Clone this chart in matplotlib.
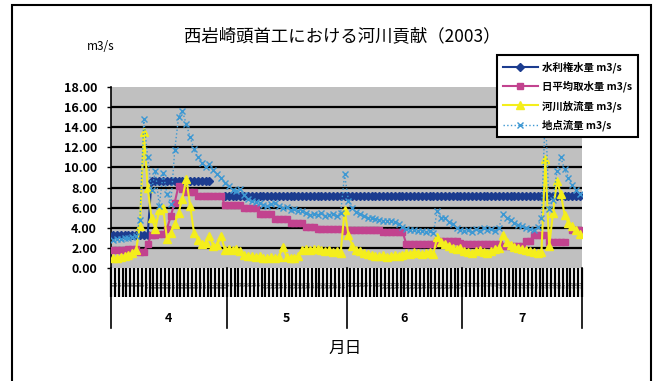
import numpy as np
import pandas as pd
import matplotlib
matplotlib.use('Agg')
import matplotlib.pyplot as plt
from matplotlib.patches import Rectangle

plt.rcParams['font.family'] = ['Noto Sans CJK JP', 'DejaVu Sans']

nan = np.nan

# daily values, 2003-04-01 .. 2003-07-31 (m3/s)
dates = pd.date_range('2003-04-01', '2003-07-31', freq='D')
month_labels = ['4', '5', '6', '7']

# 水利権水量
water_right = [
    # Apr
    3.3, 3.3, 3.3, 3.3, 3.3, 3.3, 3.3, 3.3, 3.3, 3.3,
    8.7, 8.7, 8.7, 8.7, 8.7, 8.7, 8.7, 8.7, 8.7, 8.7, 8.7, 8.7, 8.7, 8.7, 8.7, 8.7,
    nan, nan, nan, 7.2,
    # May
    7.2, 7.2, 7.2, 7.2, 7.2, 7.2, 7.2, 7.2, 7.2, 7.2, 7.2, 7.2, 7.2, 7.2, 7.2, 7.2,
    7.2, 7.2, 7.2, 7.2, 7.2, 7.2, 7.2, 7.2, 7.2, 7.2, 7.2, 7.2, 7.2, 7.2, 7.2,
    # Jun
    7.2, 7.2, 7.2, 7.2, 7.2, 7.2, 7.2, 7.2, 7.2, 7.2, 7.2, 7.2, 7.2, 7.2, 7.2,
    7.2, 7.2, 7.2, 7.2, 7.2, 7.2, 7.2, 7.2, 7.2, 7.2, 7.2, 7.2, 7.2, 7.2, 7.2,
    # Jul
    7.2, 7.2, 7.2, 7.2, 7.2, 7.2, 7.2, 7.2, 7.2, 7.2, 7.2, 7.2, 7.2, 7.2, 7.2, 7.2,
    7.2, 7.2, 7.2, 7.2, 7.2, 7.2, 7.2, 7.2, 7.2, 7.2, 7.2, 7.2, 7.2, 7.2, 7.2,
]

# 日平均取水量
intake = [
    # Apr
    1.8, 1.8, 1.8, 1.8, 1.9, 1.9, 1.9, 1.6, 1.6, 2.4, 3.3, 3.3, 3.4, 3.4, 3.9,
    5.2, 6.5, 8.2, 7.9, 7.6, 7.6, 7.6, 7.2, 7.2, 7.2, 7.2, 7.2, 7.2, 7.2, 6.3,
    # May
    6.3, 6.3, 6.3, 6.3, 6.0, 6.0, 6.0, 6.0, 5.4, 5.4, 5.4, 5.4, 4.9, 4.9, 4.9, 4.9,
    4.5, 4.5, 4.5, 4.5, 4.1, 4.1, 4.1, 3.9, 3.9, 3.9, 3.9, 3.9, 3.9, 3.9, 3.7,
    # Jun
    3.8, 3.8, 3.8, 3.8, 3.8, 3.8, 3.8, 3.8, 3.8, 3.6, 3.6, 3.6, 3.6, 3.6, 3.6,
    2.4, 2.4, 2.4, 2.4, 2.4, 2.4, 2.4, 2.4, 2.7, 2.7, 2.7, 2.7, 2.7, 2.7, 2.5,
    # Jul
    2.4, 2.4, 2.4, 2.4, 2.4, 2.4, 2.4, 2.4, 2.4, 2.4, 2.2, 2.2, 2.2, 2.2, 2.2, 2.2,
    2.7, 2.7, 3.3, 3.3, 3.3, 3.3, 2.6, 2.6, 2.6, 2.6, 2.6, nan, 3.8, 3.8, 3.8,
]

# 河川放流量
release = [
    # Apr
    1.0, 1.0, 1.1, 1.2, 1.3, 1.5, 1.8, 4.2, 13.5, 8.0, 5.0, 3.9, 5.8, 6.0, 2.9,
    3.5, 4.4, 5.5, 6.9, 8.9, 6.2, 3.5, 2.8, 2.4, 2.5, 3.2, 2.2, 2.3, 3.2, 1.8,
    # May
    1.9, 1.8, 1.9, 1.7, 1.3, 1.2, 1.2, 1.1, 1.2, 1.0, 1.0, 1.1, 1.0, 1.1, 2.1, 1.1,
    1.0, 1.0, 1.2, 1.8, 1.9, 1.8, 1.9, 1.9, 1.8, 1.7, 1.8, 1.6, 1.7, 1.5, 5.8,
    # Jun
    3.3, 2.2, 1.8, 1.7, 1.5, 1.4, 1.3, 1.2, 1.2, 1.3, 1.1, 1.2, 1.3, 1.2, 1.3,
    1.5, 1.4, 1.6, 1.5, 1.4, 1.5, 1.6, 1.4, 3.1, 2.6, 2.4, 2.2, 2.0, 1.9, 2.0,
    # Jul
    1.7, 1.6, 1.5, 1.7, 1.8, 1.6, 1.5, 1.7, 1.9, 2.0, 3.3, 2.6, 2.3, 2.1, 2.0, 1.9,
    1.8, 1.7, 1.6, 1.5, 1.6, 10.8, 2.2, 5.5, 8.7, 7.4, 5.3, 4.5, 4.2, 3.8, 3.4,
]

# 地点流量
flow = [
    # Apr
    2.8, 2.9, 2.9, 3.0, 3.0, 3.1, 3.2, 4.8, 14.8, 11.0, 7.8, 9.6, 6.2, 9.4, 7.4,
    6.4, 11.7, 15.0, 15.6, 14.3, 13.0, 11.8, 11.0, 10.4, 10.0, 10.3, 9.7, 9.3, 9.0, 8.5,
    # May
    8.2, 7.8, 7.7, 7.9, 7.3, 6.9, 6.7, 6.6, 6.5, 6.3, 6.2, 6.4, 6.5, 6.2, 6.0, 6.1,
    5.8, 5.9, 5.7, 5.7, 5.5, 5.3, 5.4, 5.3, 5.5, 5.2, 5.3, 5.4, 5.2, 5.5, 9.3,
    # Jun
    6.7, 6.0, 5.6, 5.4, 5.2, 5.0, 5.0, 4.9, 4.8, 4.7, 4.7, 4.7, 4.6, 4.4, 4.1,
    3.9, 3.8, 3.8, 3.7, 3.7, 3.6, 3.7, 3.5, 5.7, 5.0, 5.0, 4.6, 4.4, 4.0, 3.8,
    # Jul
    3.7, 3.8, 3.6, 3.9, 3.7, 4.0, 3.8, 3.9, 3.7, 4.0, 5.4, 5.0, 4.8, 4.5, 4.3, 4.2,
    4.0, 3.9, 3.8, 4.1, 5.0, 15.5, 5.9, 6.8, 9.6, 11.0, 9.8, 9.0, 8.3, 7.8, 7.4,
]

x = np.arange(len(dates))
day_labels = [f'{d.month}/{d.day}' for d in dates]

W, H = 659, 381
fig = plt.figure(figsize=(W / 100, H / 100), dpi=100)
ax = fig.add_axes([111 / W, 1 - 268 / H, 471 / W, 181 / H])
ax.set_facecolor('#c0c0c0')
ax.set_xlim(-0.5, len(x) - 0.5)
ax.set_ylim(0, 18)

yticks = np.arange(0, 19, 2)
ax.set_yticks(yticks, labels=[f'{v:.2f}' for v in yticks])
ax.tick_params(axis='y', length=3, width=1, labelsize=9, pad=7)
for lab in ax.get_yticklabels():
    lab.set_fontweight('bold')
for v in yticks[1:-1]:
    ax.axhline(v, color='black', lw=1.6, zorder=1)

for side in ['top', 'right', 'bottom']:
    ax.spines[side].set_visible(False)
ax.spines['left'].set_linewidth(1.2)

ax.plot(x, water_right, color='#1c3c8f', marker='D', ms=4.5, lw=1.5,
        label='水利権水量 m3/s', zorder=3)
ax.plot(x, intake, color='#c2438f', marker='s', ms=4.5, lw=1.5,
        label='日平均取水量 m3/s', zorder=3)
ax.plot(x, release, color='#f4ee1c', marker='^', ms=5.5, lw=1.5,
        label='河川放流量 m3/s', zorder=4)
ax.plot(x, flow, color='#3d98d3', marker='x', ms=4, mew=1, lw=1, ls=':',
        label='地点流量 m3/s', zorder=5)

# one tick per day plus the crowded date labels
ax.set_xticks(np.arange(-0.5, len(x), 1))
ax.set_xticklabels([])
ax.tick_params(axis='x', which='major', length=21, width=1.6, direction='out')
ax.set_xticks(x, labels=day_labels, minor=True)
ax.tick_params(axis='x', which='minor', length=0, pad=9, labelsize=2.5,
               labelrotation=90)

# month grouping row
tr = ax.get_xaxis_transform()
month_ends = np.cumsum([0] + [sum(dates.month == m) for m in (4, 5, 6, 7)]) - 0.5
for b in month_ends:
    ax.plot([b, b], [0, -60 / 181], transform=tr, color='black', lw=1.2,
            clip_on=False)
for i, m in enumerate(month_labels):
    ax.text((month_ends[i] + month_ends[i + 1]) / 2, -50 / 181, m, transform=tr,
            ha='center', va='center', fontsize=9, fontweight='bold')

fig.text(345 / W, 1 - 348 / H, '月日', ha='center', va='center', fontsize=12)
fig.text(342 / W, 1 - 36 / H, '西岩崎頭首工における河川貢献（2003）',
         ha='center', va='center', fontsize=12.5)
fig.text(101 / W, 1 - 46 / H, 'm3/s', ha='center', va='center', fontsize=8.5)

leg = ax.legend(loc='upper left', bbox_to_anchor=(497 / W, 1 - 55 / H),
                bbox_transform=fig.transFigure, fancybox=False, framealpha=1,
                edgecolor='black', prop={'size': 7.5, 'weight': 'bold'},
                handlelength=3.3, handletextpad=0.4, labelspacing=0.75,
                borderpad=0.6, borderaxespad=0)
leg.get_frame().set_linewidth(1.5)
leg.set_zorder(10)

fig.add_artist(Rectangle((12 / W, -0.05), (651 - 12) / W, 1.05 - 5 / H,
                         transform=fig.transFigure, fill=False, lw=1.5,
                         edgecolor='black'))

fig.savefig('out.png', dpi=100)
